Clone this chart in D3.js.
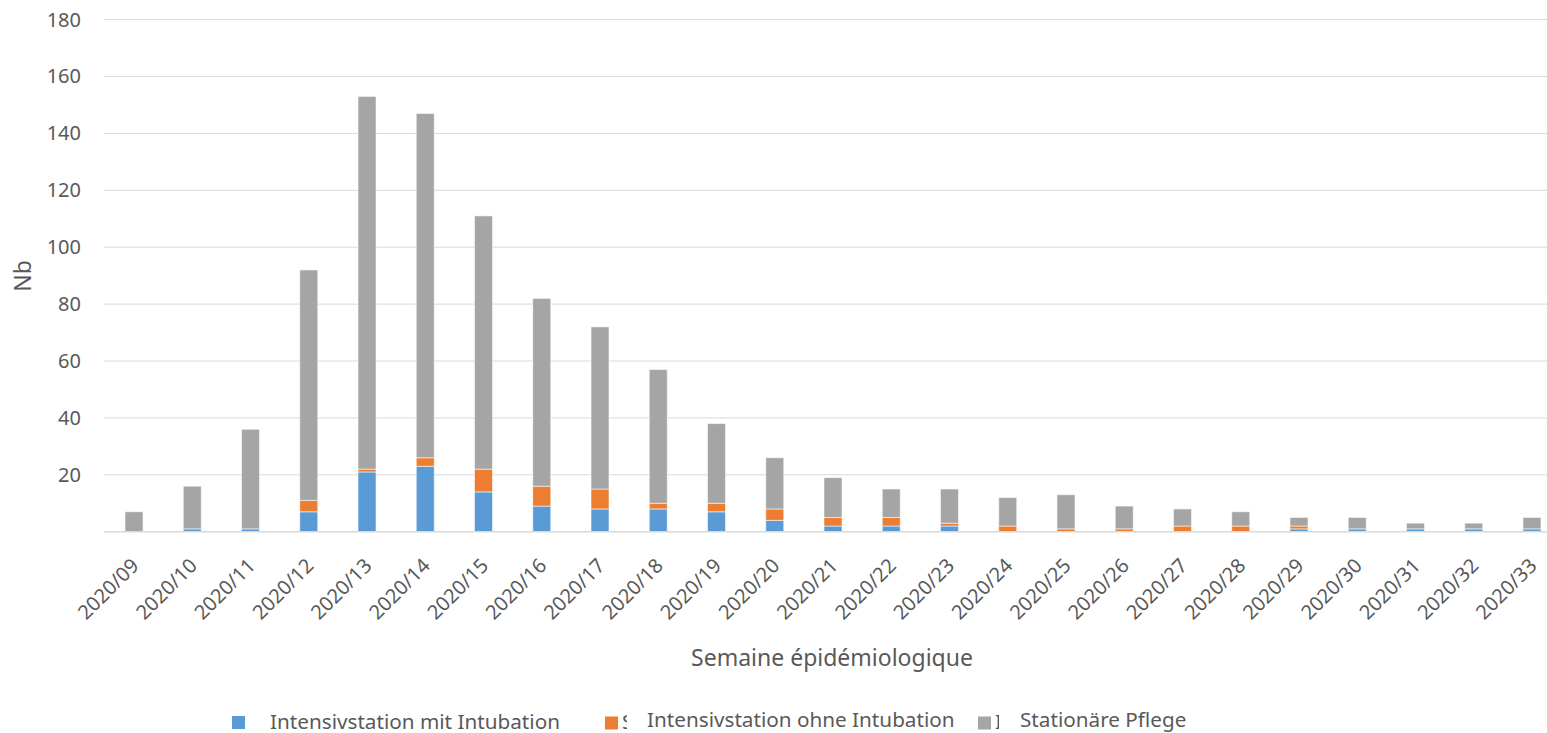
<!DOCTYPE html>
<html><head><meta charset="utf-8">
<script src="https://cdn.jsdelivr.net/npm/d3@7"></script>
<style>body{margin:0;background:#fff}svg{display:block}text{font-family:"Noto Sans","Open Sans",sans-serif;fill:#595959}</style>
</head><body><svg id="c" width="1547" height="733"></svg>
<script>
const categories = ["2020/09","2020/10","2020/11","2020/12","2020/13","2020/14","2020/15","2020/16","2020/17","2020/18","2020/19","2020/20","2020/21","2020/22","2020/23","2020/24","2020/25","2020/26","2020/27","2020/28","2020/29","2020/30","2020/31","2020/32","2020/33"];
const intubation   = [0,1,1,7,21,23,14,9,8,8,7,4,2,2,2,0,0,0,0,0,1,1,1,1,1];
const sansIntubation = [0,0,0,4,1,3,8,7,7,2,3,4,3,3,1,2,1,1,2,2,1,0,0,0,0];
const stationaire  = [7,15,35,81,131,121,89,66,57,47,28,18,14,10,12,10,12,8,6,5,3,4,2,2,4];
const yTicks = [20,40,60,80,100,120,140,160,180];
const seriesNames = ["Intensivstation mit Intubation","Intensivstation ohne Intubation","Stationäre Pflege"];
const colors = ["#5B9BD5","#ED7D31","#A5A5A5"];

const svg = d3.select("#c");
const x = d3.scaleBand().domain(categories).range([104.9, 1561.1]).paddingInner(0.691).paddingOuter(0.3455);
const y = d3.scaleLinear().domain([0,180]).range([531.7, 19.6]);

// gridlines
svg.append("g").selectAll("line").data(yTicks).join("line")
  .attr("x1",104).attr("x2",1547).attr("y1",d=>y(d)).attr("y2",d=>y(d))
  .attr("stroke","#D9D9D9").attr("stroke-width",1);

// y axis labels
const yAxis = d3.axisLeft(y).tickValues(yTicks).tickSize(0).tickPadding(0);
const gy = svg.append("g").attr("transform","translate(81,0)").call(yAxis);
gy.select(".domain").remove();
gy.selectAll("text").attr("font-size",20).attr("fill","#595959").style("font-family",'"Noto Sans",sans-serif');

// stacked bars
const rows = categories.map((c,i)=>({cat:c, a:intubation[i], b:sansIntubation[i], c2:stationaire[i]}));
const stack = d3.stack().keys(["a","b","c2"])(rows);
svg.append("g").selectAll("g").data(stack).join("g").attr("fill",(d,i)=>colors[i])
  .selectAll("rect").data(d=>d.filter(v=>v[1]-v[0]>0)).join("rect")
  .attr("x",d=>x(d.data.cat)).attr("width",x.bandwidth())
  .attr("y",d=>y(d[1])).attr("height",d=>y(d[0])-y(d[1]))
  .attr("stroke","#ffffff").attr("stroke-opacity",0.55).attr("stroke-width",1);

// baseline
svg.append("line").attr("x1",104).attr("x2",1547).attr("y1",y(0)).attr("y2",y(0))
  .attr("stroke","#D9D9D9").attr("stroke-width",1.5);

// x labels
const xAxis = d3.axisBottom(x).tickSize(0).tickPadding(0);
const gx = svg.append("g").call(xAxis);
gx.select(".domain").remove();
gx.selectAll(".tick").attr("transform",d=>`translate(${x(d)+x.bandwidth()/2+6},567)`);
gx.selectAll("text").attr("y",0).attr("dy",0).attr("text-anchor","end")
  .attr("transform","rotate(-45)").attr("font-size",20).attr("fill","#595959")
  .style("font-family",'"Noto Sans",sans-serif');

// axis titles
svg.append("text").attr("x",832).attr("y",665.7).attr("text-anchor","middle").attr("font-size",23).text("Semaine épidémiologique");
svg.append("text").attr("transform","translate(31,276) rotate(-90)").attr("text-anchor","middle").attr("font-size",23).text("Nb");

// legend
const leg = svg.append("g");
const sq = [{x:232,y:716},{x:605,y:716.5},{x:978,y:716.5}];
const tx = [{x:270,y:729},{x:647,y:726.7},{x:1020,y:726.7}];
seriesNames.forEach((n,i)=>{
  leg.append("rect").attr("x",sq[i].x).attr("y",sq[i].y).attr("width",13).attr("height",13).attr("fill",colors[i]);
  leg.append("text").attr("x",tx[i].x).attr("y",tx[i].y).attr("font-size",20.7).text(n);
});
// clipped fragments
const defs = svg.append("defs");
defs.append("clipPath").attr("id","f1").append("rect").attr("x",621).attr("y",700).attr("width",6).attr("height",33);
defs.append("clipPath").attr("id","f2").append("rect").attr("x",995).attr("y",700).attr("width",4).attr("height",33);
leg.append("text").attr("x",622).attr("y",729).attr("font-size",20.7).attr("clip-path","url(#f1)").text("S");
leg.append("text").attr("x",995).attr("y",729).attr("font-size",20.7).attr("clip-path","url(#f2)").text("I");
</script></body></html>
